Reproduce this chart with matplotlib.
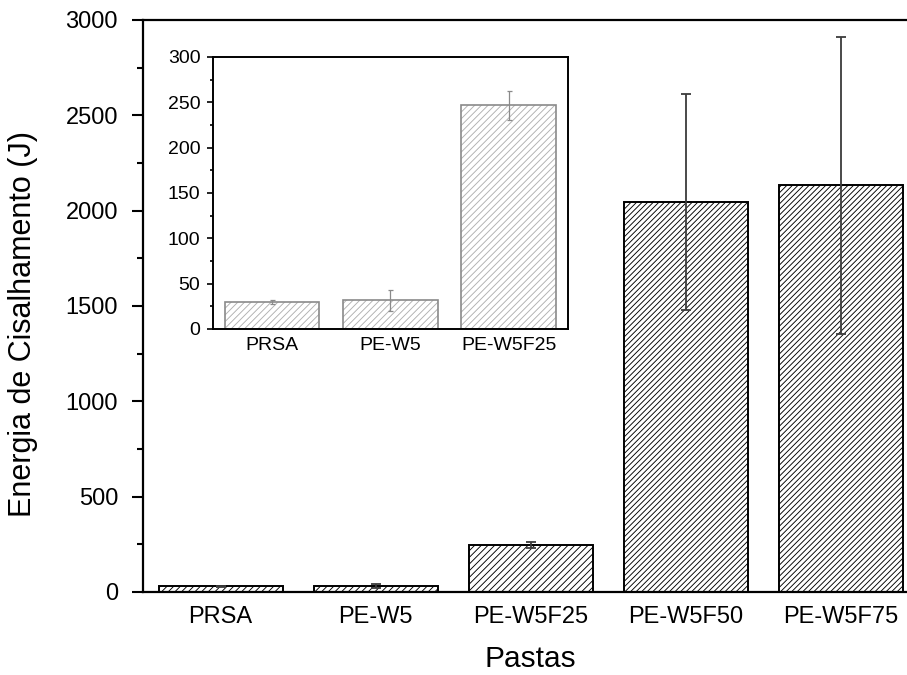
import matplotlib
matplotlib.use('Agg')
import matplotlib.pyplot as plt
from matplotlib.ticker import MultipleLocator

plt.rcParams['font.family'] = ['Liberation Sans', 'DejaVu Sans']
plt.rcParams['hatch.linewidth'] = 0.65

# Shear energy per paste (J), mean and standard deviation
pastas = ['PRSA', 'PE-W5', 'PE-W5F25', 'PE-W5F50', 'PE-W5F75']
energia = [30, 32, 247, 2045, 2132]
desvio = [2, 12, 16, 567, 778]

# Zoomed view of the first three pastes
pastas_zoom = ['PRSA', 'PE-W5', 'PE-W5F25']
energia_zoom = [30, 31.5, 246.5]
desvio_zoom = [2, 12, 16]

fig = plt.figure(figsize=(9.07, 6.75), dpi=100)

# Main axes (right edge runs slightly past the figure)
ax = fig.add_axes([0.1577, 0.1230, 0.855, 0.8474])
x = range(len(pastas))
hatches = ['/////', '/////', '/////', '//////', '//////']
for i in x:
    ax.bar(i, energia[i], width=0.8, color='white', edgecolor='black',
           linewidth=1.4, hatch=hatches[i], zorder=2)
ax.errorbar(list(x), energia, yerr=desvio, fmt='none', ecolor='#3c3c3c',
            elinewidth=1.3, capsize=3.6, capthick=1.3, zorder=3)

ax.set_xlim(-0.5, 4.5)
ax.set_ylim(0, 3000)
ax.yaxis.set_major_locator(MultipleLocator(500))
ax.yaxis.set_minor_locator(MultipleLocator(250))
ax.set_xticks(list(x))
ax.set_xticklabels(pastas)
ax.tick_params(axis='y', which='major', direction='out', length=8, width=1.5,
               labelsize=17, pad=10)
ax.tick_params(axis='y', which='minor', direction='out', length=4, width=1.5)
ax.tick_params(axis='x', which='both', length=0, labelsize=17, pad=10)
for s in ax.spines.values():
    s.set_linewidth(1.6)
ax.set_xlabel('Pastas', fontsize=21.5, labelpad=12)
ax.set_ylabel('Energia de Cisalhamento (J)', fontsize=22)
ax.yaxis.set_label_coords(-0.1354, 0.4685)

# Inset: light hatch layer, then a darker outline on top
axi = fig.add_axes([0.2348, 0.5126, 0.3914, 0.403])
xi = list(range(len(pastas_zoom)))
axi.bar(xi, energia_zoom, width=0.8, color='white', edgecolor='#b0b0b0',
        linewidth=0, hatch='/////', zorder=2)
axi.bar(xi, energia_zoom, width=0.8, fill=False, edgecolor='#8a8a8a',
        linewidth=1.2, zorder=2.5)
axi.errorbar(xi, energia_zoom, yerr=desvio_zoom, fmt='none',
             ecolor='#8a8a8a', elinewidth=0.9, capsize=1.8, capthick=0.9,
             zorder=3)
axi.set_xlim(-0.5, 2.5)
axi.set_ylim(0, 300)
axi.yaxis.set_major_locator(MultipleLocator(50))
axi.yaxis.set_minor_locator(MultipleLocator(25))
axi.set_xticks(xi)
axi.set_xticklabels(pastas_zoom)
axi.tick_params(axis='y', which='major', direction='out', length=4, width=1.2,
                labelsize=14, pad=5)
axi.tick_params(axis='y', which='minor', direction='out', length=2, width=1.2)
axi.tick_params(axis='x', which='both', length=0, labelsize=14, pad=6)
for s in axi.spines.values():
    s.set_linewidth(1.4)

fig.savefig('out.png', dpi=100)
